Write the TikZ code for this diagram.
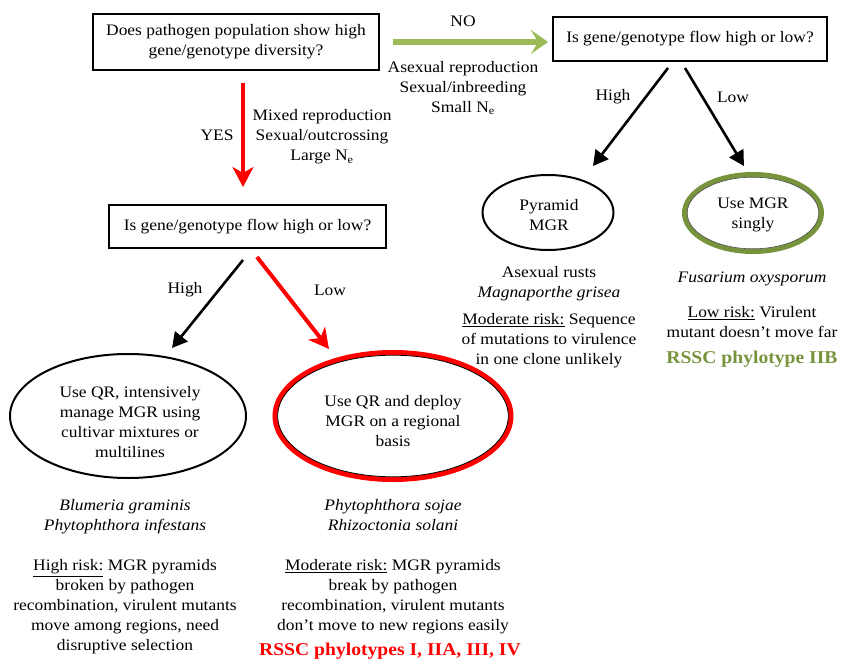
\documentclass[tikz,border=0pt]{standalone}
\usepackage{fontspec}
\setmainfont[FakeStretch=1.09]{Liberation Serif}
\usetikzlibrary{arrows.meta,shapes.geometric}
\definecolor{arrgreen}{HTML}{9BBB59}
\definecolor{darkgreen}{HTML}{77933C}
\definecolor{pred}{HTML}{FF0000}
\tikzset{
  txt/.style={align=center, inner sep=0pt, font=\fontsize{16}{20}\selectfont},
  qbox/.style={draw=black, line width=2.8pt, inner sep=0pt, align=center, font=\fontsize{16}{20}\selectfont},
  oval/.style={ellipse, draw=black, line width=2pt, inner sep=0pt},
  blackarr/.style={line width=2.6pt, -{Triangle[length=15pt,width=16pt]}},
  redarr/.style={pred, line width=4pt, -{Stealth[length=20pt,width=21pt,inset=6pt]}},
  greenarr/.style={arrgreen, line width=6pt, -{Stealth[length=17pt,width=24pt,inset=7pt]}},
  bigtag/.style={inner sep=0pt, font=\fontsize{18}{20}\selectfont\bfseries}
}
\begin{document}
\begin{tikzpicture}[x=1pt,y=-1pt]
\useasboundingbox (0,0) rectangle (844,661);

% boxes
\node[qbox, minimum width=286pt, minimum height=56pt] (q1) at (236,42)
  {Does pathogen population show high\\gene/genotype diversity?};
\node[qbox, minimum width=274pt, minimum height=44pt] (q2) at (690,39)
  {Is gene/genotype flow high or low?};
\node[qbox, minimum width=277pt, minimum height=43pt] (q3) at (247.5,226.5)
  {Is gene/genotype flow high or low?};

% ellipses
\node[oval, minimum width=236pt, minimum height=124pt] (e1) at (128,416) {};
\node[oval, draw=pred, line width=5pt, minimum width=236pt, minimum height=127pt] (e2) at (393,416) {};
\draw[black, line width=0.8pt] (e2.center) ellipse [x radius=115.3pt, y radius=60.8pt];
\node[oval, minimum width=131pt, minimum height=75pt] (e3) at (548,212.5) {};
\node[oval, draw=darkgreen, line width=5pt, minimum width=137pt, minimum height=77pt] (e4) at (753,213) {};
\draw[black!70, line width=0.6pt] (e4.center) ellipse [x radius=65.8pt, y radius=35.8pt];

% ellipse texts
\node[txt] (e1t) at (130,422) {Use QR, intensively\\manage MGR using\\cultivar mixtures or\\multilines};
\node[txt] (e2t) at (393,421) {Use QR and deploy\\MGR on a regional\\basis};
\node[txt] (e3t) at (549,215) {Pyramid\\MGR};
\node[txt] (e4t) at (753,215) {Use MGR\\singly};

% arrow end points
\coordinate (a0s) at (393,42);  \coordinate (a0e) at (548,42);
\coordinate (a1s) at (243,83);  \coordinate (a1e) at (243,187);
\coordinate (a2s) at (668,68);  \coordinate (a2e) at (593,166);
\coordinate (a3s) at (685,68);  \coordinate (a3e) at (744,166);
\coordinate (a4s) at (243,260); \coordinate (a4e) at (172,348);
\coordinate (a5s) at (257,257); \coordinate (a5e) at (329,349);

\draw[greenarr] (a0s) -- (a0e);
\draw[redarr] (a1s) -- (a1e);
\draw[blackarr] (a2s) -- (a2e);
\draw[blackarr] (a3s) -- (a3e);
\draw[blackarr] (a4s) -- (a4e);
\draw[redarr] (a5s) -- (a5e);

% arrow labels
\node[txt] (no) at (463,21) {NO};
\node[txt] (nol) at (463,88) {Asexual reproduction\\Sexual/inbreeding\\Small N\textsubscript{e}};
\node[txt] (yes) at (217,135) {YES};
\node[txt] (yesl) at (322,137) {Mixed reproduction\\Sexual/outcrossing\\Large N\textsubscript{e}};
\node[txt] (hi1) at (613,97) {High};
\node[txt] (lo1) at (733,97) {Low};
\node[txt] (hi2) at (185,290) {High};
\node[txt] (lo2) at (330,290) {Low};

% descriptions
\node[txt] (d3) at (549,317) {Asexual rusts\\\textit{Magnaporthe grisea}\\[7pt]\underline{Moderate risk:} Sequence\\of mutations to virulence\\in one clone unlikely};
\node[txt] (d4) at (752,304.5) {\textit{Fusarium oxysporum}\\[15pt]\underline{Low risk:} Virulent\\mutant doesn’t move far};
\node[bigtag, text=darkgreen] (r4) at (752,359) {RSSC phylotype IIB};

\node[txt] (d1) at (125,577) {\textit{Blumeria graminis}\\\textit{Phytophthora infestans}\\[20pt]\underline{High risk:} MGR pyramids\\broken by pathogen\\recombination, virulent mutants\\move among regions, need\\disruptive selection};
\node[txt] (d2) at (393,567) {\textit{Phytophthora sojae}\\\textit{Rhizoctonia solani}\\[20pt]\underline{Moderate risk:} MGR pyramids\\break by pathogen\\recombination, virulent mutants\\don’t move to new regions easily};
\node[bigtag, text=pred] (r2) at (390,651) {RSSC phylotypes I, IIA, III, IV};
\end{tikzpicture}
\end{document}
